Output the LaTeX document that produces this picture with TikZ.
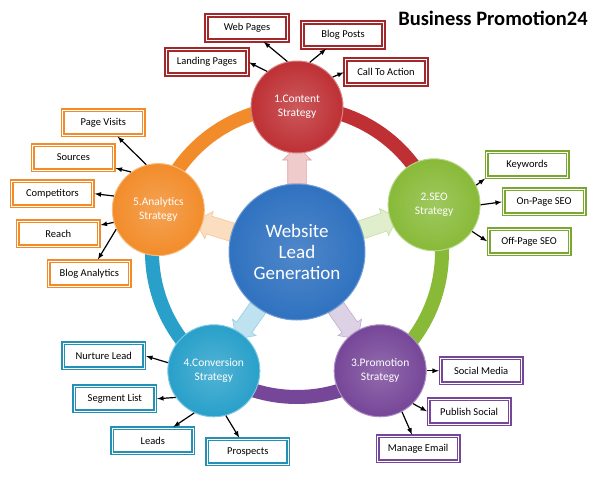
\documentclass[tikz,border=0pt]{standalone}
\usepackage{fontspec}
\setmainfont{Carlito}
\usetikzlibrary{calc}
\usetikzlibrary{positioning}
\usetikzlibrary{shapes.arrows}
\definecolor{stratRed}{RGB}{190,48,52}
\definecolor{stratGreen}{RGB}{136,186,56}
\definecolor{stratPurple}{RGB}{118,70,152}
\definecolor{stratTeal}{RGB}{40,160,202}
\definecolor{stratOrange}{RGB}{242,140,42}
\definecolor{leadBlue}{RGB}{48,114,192}
\tikzstyle{stratnode} = [circle, minimum size=92pt, inner sep=0pt, align=center, text=white, font=\fontsize{11.5}{14}\selectfont, line width=1pt]
\tikzstyle{itembox} = [draw, line width=1.6pt, double=white, double distance=0.9pt, fill=white, minimum width=81pt, minimum height=25pt, font=\fontsize{10.5}{12}\selectfont]
\tikzstyle{blockarrow} = [single arrow, minimum height=38pt, minimum width=28pt, single arrow head extend=5pt, inner xsep=0pt, inner ysep=9pt, line width=0.6pt]
\tikzstyle{ringarc} = [line width=14pt]
\tikzstyle{itemarrow} = [-latex, line width=1.2pt, shorten >=1pt]
\tikzstyle{colorRed} = [draw=stratRed!85!black]
\tikzstyle{colorGreen} = [draw=stratGreen!90!black]
\tikzstyle{colorPurple} = [draw=stratPurple]
\tikzstyle{colorTeal} = [draw=stratTeal!90!black]
\tikzstyle{colorOrange} = [draw=stratOrange]

\begin{document}
\begin{tikzpicture}[x=1pt, y=-1pt]
    \useasboundingbox (0,0) rectangle (594,482);
    \coordinate (ring) at (297,252);

    % coloured ring between the strategies
    \draw[ringarc, stratRed] ($(ring)+(-90:145)$) arc[start angle=-90, end angle=-19, radius=145];
    \draw[ringarc, stratGreen] ($(ring)+(-19:145)$) arc[start angle=-19, end angle=55, radius=145];
    \draw[ringarc, stratPurple] ($(ring)+(55:145)$) arc[start angle=55, end angle=125, radius=145];
    \draw[ringarc, stratTeal] ($(ring)+(125:145)$) arc[start angle=125, end angle=197, radius=145];
    \draw[ringarc, stratOrange] ($(ring)+(197:145)$) arc[start angle=197, end angle=270, radius=145];

    \coordinate (con_pos) at ($(ring)+(-90:145)$);
    \coordinate (seo_pos) at ($(ring)+(-19:145)$);
    \coordinate (pro_pos) at ($(ring)+(55:145)$);
    \coordinate (cnv_pos) at ($(ring)+(125:145)$);
    \coordinate (ana_pos) at ($(ring)+(197:145)$);

    % block arrows out of the centre
    \node[blockarrow, fill=stratRed!25, draw=stratRed!45, rotate=90] (arr_con) at ($(ring)!0.57!(con_pos)$) {};
    \node[blockarrow, fill=stratGreen!25, draw=stratGreen!50, rotate=19] (arr_seo) at ($(ring)!0.57!(seo_pos)$) {};
    \node[blockarrow, fill=stratPurple!25, draw=stratPurple!45, rotate=-55] (arr_pro) at ($(ring)!0.57!(pro_pos)$) {};
    \node[blockarrow, fill=stratTeal!30, draw=stratTeal!50, rotate=-125] (arr_cnv) at ($(ring)!0.57!(cnv_pos)$) {};
    \node[blockarrow, fill=stratOrange!30, draw=stratOrange!50, rotate=163] (arr_ana) at ($(ring)!0.57!(ana_pos)$) {};

    \node[circle, minimum size=136pt, inner sep=0pt, align=center, text=white,
          inner color=leadBlue!85!white, outer color=leadBlue, draw=leadBlue!70!white, line width=1pt,
          font=\fontsize{19}{21}\selectfont] (lead) at (ring) {Website\\Lead\\Generation};

    \node[stratnode, inner color=stratRed!80!white, outer color=stratRed, draw=stratRed!60!white] (con) at (con_pos) {1.Content\\Strategy};
    \node[stratnode, inner color=stratGreen!80!white, outer color=stratGreen, draw=stratGreen!60!white] (seo) at (seo_pos) {2.SEO\\Strategy};
    \node[stratnode, inner color=stratPurple!80!white, outer color=stratPurple, draw=stratPurple!60!white] (pro) at (pro_pos) {3.Promotion\\Strategy};
    \node[stratnode, inner color=stratTeal!80!white, outer color=stratTeal, draw=stratTeal!60!white] (cnv) at (cnv_pos) {4.Conversion\\Strategy};
    \node[stratnode, inner color=stratOrange!80!white, outer color=stratOrange, draw=stratOrange!60!white] (ana) at (ana_pos) {5.Analytics\\Strategy};

    % content strategy
    \node[itembox, colorRed] (con_web) at ($(con)+(-50,-79)$) {Web Pages};
    \node[itembox, colorRed] (con_blog) at ($(con)+(46,-72)$) {Blog Posts};
    \node[itembox, colorRed] (con_land) at ($(con)+(-90,-45)$) {Landing Pages};
    \node[itembox, colorRed] (con_cta) at ($(con)+(89,-35)$) {Call To Action};
    \draw[itemarrow] (con.102) -- (con_web);
    \draw[itemarrow] (con.74) -- (con_blog);
    \draw[itemarrow] (con.130) -- (con_land.east);
    \draw[itemarrow] (con.40) -- (con_cta.west);

    % seo strategy
    \node[itembox, colorGreen] (seo_key) at ($(seo)+(93,-40)$) {Keywords};
    \node[itembox, colorGreen] (seo_on) at ($(seo)+(110,-3)$) {On-Page SEO};
    \node[itembox, colorGreen] (seo_off) at ($(seo)+(95,37)$) {Off-Page SEO};
    \draw[itemarrow] (seo.25) -- (seo_key.south west);
    \draw[itemarrow] (seo.0) -- (seo_on.west);
    \draw[itemarrow] (seo.-35) -- (seo_off.west);

    % promotion strategy
    \node[itembox, colorPurple] (pro_social) at ($(pro)+(101,0)$) {Social Media};
    \node[itembox, colorPurple] (pro_pub) at ($(pro)+(89,41)$) {Publish Social};
    \node[itembox, colorPurple] (pro_mail) at ($(pro)+(38,78)$) {Manage Email};
    \draw[itemarrow] (pro.0) -- (pro_social.west);
    \draw[itemarrow] (pro.-45) -- (pro_pub.west);
    \draw[itemarrow] (pro.-62) -- (pro_mail);

    % conversion strategy
    \node[itembox, colorTeal] (cnv_nur) at ($(cnv)+(-110,-15)$) {Nurture Lead};
    \node[itembox, colorTeal] (cnv_seg) at ($(cnv)+(-99,28)$) {Segment List};
    \node[itembox, colorTeal] (cnv_leads) at ($(cnv)+(-61,70)$) {Leads};
    \node[itembox, colorTeal] (cnv_pros) at ($(cnv)+(34,81)$) {Prospects};
    \draw[itemarrow] (cnv.170) -- (cnv_nur.east);
    \draw[itemarrow] (cnv.215) -- (cnv_seg.east);
    \draw[itemarrow] (cnv.245) -- (cnv_leads);
    \draw[itemarrow] (cnv.-75) -- (cnv_pros);

    % analytics strategy
    \node[itembox, colorOrange] (ana_visits) at ($(ana)+(-55,-87)$) {Page Visits};
    \node[itembox, colorOrange] (ana_src) at ($(ana)+(-85,-52)$) {Sources};
    \node[itembox, colorOrange] (ana_comp) at ($(ana)+(-106,-16)$) {Competitors};
    \node[itembox, colorOrange] (ana_reach) at ($(ana)+(-100,24)$) {Reach};
    \node[itembox, colorOrange] (ana_blog) at ($(ana)+(-69,64)$) {Blog Analytics};
    \draw[itemarrow] (ana.105) -- (ana_visits);
    \draw[itemarrow] (ana.126) -- (ana_src);
    \draw[itemarrow] (ana.163) -- (ana_comp.east);
    \draw[itemarrow] (ana.196) -- (ana_reach);
    \draw[itemarrow] (ana.205) -- (ana_blog);

    \node[font=\bfseries\fontsize{20.5}{22}\selectfont] (title) at (493,18) {Business Promotion24};
\end{tikzpicture}
\end{document}
